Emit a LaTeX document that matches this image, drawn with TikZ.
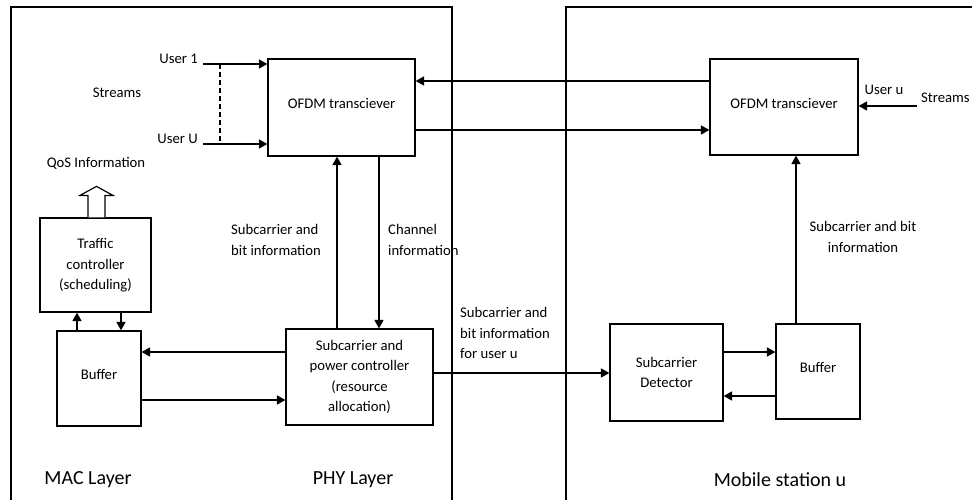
\documentclass[tikz,border=0pt]{standalone}
\usepackage{fontspec}
\setmainfont{Carlito}
\usetikzlibrary{arrows.meta}
\tikzset{
  box/.style={draw, line width=1.2pt, inner sep=0pt, align=center,
    font=\fontsize{14.7}{20.5}\selectfont},
  lbl/.style={inner sep=0pt, font=\fontsize{14.7}{20.5}\selectfont},
  big/.style={inner sep=0pt, font=\fontsize{20}{24}\selectfont},
  arr/.style={line width=1.5pt, -{Triangle[length=8.5pt,width=9pt]}},
  frame/.style={line width=1.2pt}
}
\begin{document}
\begin{tikzpicture}[x=1pt,y=-1pt]
\useasboundingbox (0,0) rectangle (972,500);
\begin{scope}
\clip (0,0) rectangle (972,500);
\draw[frame] (11,515) -- (11,7) -- (452,7) -- (452,515);
\draw[frame] (566,515) -- (566,7) -- (990,7);
\end{scope}

% nodes
\node[box, minimum width=147pt, minimum height=97pt] (ofdmL) at (341.5,107.5) {\raisebox{8pt}{OFDM transciever}};
\node[box, minimum width=148pt, minimum height=96pt] (ofdmR) at (784,107) {\raisebox{8pt}{OFDM transciever}};
\node[box, minimum width=111pt, minimum height=94pt] (traf) at (95.5,265) {\raisebox{9pt}{\begin{tabular}{@{}c@{}}Traffic\\controller\\(scheduling)\end{tabular}}};
\node[box, minimum width=84pt, minimum height=95pt] (bufL) at (99,378.5) {\raisebox{8pt}{Buffer}};
\node[box, minimum width=147pt, minimum height=96pt] (spc) at (359.5,377) {Subcarrier and\\power controller\\(resource\\allocation)};
\node[box, minimum width=113pt, minimum height=97pt] (det) at (666.5,372.5) {Subcarrier\\Detector};
\node[box, minimum width=84pt, minimum height=95pt] (bufR) at (818,371.5) {\raisebox{8pt}{Buffer}};

% labels
\node[lbl, anchor=east] (l1) at (198,59) {User 1};
\node[lbl, anchor=east] (lU) at (198,139) {User U};
\node[lbl] (strL) at (117,93) {Streams};
\node[lbl] (qos) at (96,163) {QoS Information};
\node[lbl, anchor=west, align=left] (sbi) at (231,240) {Subcarrier and\\bit information};
\node[lbl, anchor=west, align=left] (chi) at (388,240) {Channel\\information};
\node[lbl, anchor=west, align=left] (sbu) at (460,333) {Subcarrier and\\bit information\\for user u};
\node[lbl, align=center] (sbr) at (863,237) {Subcarrier and bit\\information};
\node[lbl] (uu) at (884,90) {User u};
\node[lbl, anchor=west] (strR) at (921,98) {Streams};
\node[big] (mac) at (88,480) {MAC Layer};
\node[big] (phy) at (353,480) {PHY Layer};
\node[big] (ms) at (780,480) {Mobile station u};

% coordinates
\coordinate (u1) at (203,64);
\coordinate (uU) at (203,144);
\coordinate (d1) at (220,64);
\coordinate (d2) at (220,144);
\coordinate (sin) at (917,106);

% connectors
\draw[arr] (u1) -- (u1 -| ofdmL.west);
\draw[arr] (uU) -- (uU -| ofdmL.west);
\draw[line width=1.2pt, dash pattern=on 5pt off 3pt] (d1) -- (d2);
\draw[arr] ([yshift=26pt]ofdmR.west) -- ([yshift=26pt]ofdmR.west -| ofdmL.east);
\draw[arr] ([yshift=-22.5pt]ofdmL.east) -- ([yshift=-22.5pt]ofdmL.east -| ofdmR.west);
\draw[arr] ([xshift=-22.5pt]spc.north) -- ([xshift=-22.5pt]spc.north |- ofdmL.south);
\draw[arr] ([xshift=37.5pt]ofdmL.south) -- ([xshift=37.5pt]ofdmL.south |- spc.north);
\draw[arr] ([yshift=25pt]spc.west) -- ([yshift=25pt]spc.west -| bufL.east);
\draw[arr] ([yshift=-21.5pt]bufL.east) -- ([yshift=-21.5pt]bufL.east -| spc.west);
\draw[arr] ([xshift=-22pt]bufL.north) -- ([xshift=-22pt]bufL.north |- traf.south);
\draw[arr] ([xshift=22pt]bufL.north |- traf.south) -- ([xshift=22pt]bufL.north);
\draw[arr] ([yshift=4pt]spc.east) -- ([yshift=4pt]spc.east -| det.west);
\draw[arr] ([yshift=20.5pt]det.east) -- ([yshift=20.5pt]det.east -| bufR.west);
\draw[arr] ([yshift=-24.5pt]bufR.west) -- ([yshift=-24.5pt]bufR.west -| det.east);
\draw[arr] ([xshift=-22pt]bufR.north) -- ([xshift=-22pt]bufR.north |- ofdmR.south);
\draw[arr] (sin) -- (sin -| ofdmR.east);

% QoS open arrow
\draw[line width=1.2pt, fill=white] ([xshift=-7.5pt]traf.north) -- ++(0,-22) -- ++(-8,0) -- ++(16.5,-9) -- ++(16.5,9) -- ++(-8,0) -- ([xshift=9.5pt]traf.north);
\end{tikzpicture}
\end{document}
